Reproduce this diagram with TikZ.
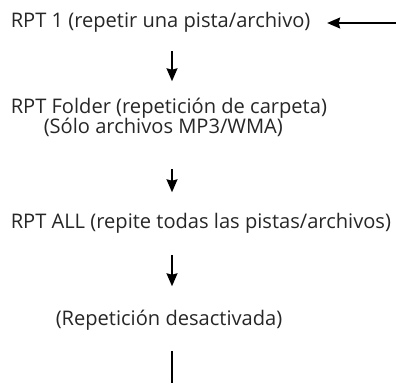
\documentclass[tikz,border=0pt]{standalone}
\usepackage{fontspec}
\setmainfont{Open Sans}
\usepackage{tikz}
\usetikzlibrary{arrows.meta}

\begin{document}
\begin{tikzpicture}[x=1pt,y=1pt,>={Stealth[length=13pt,width=11pt,inset=1.5pt]},
  line width=1.5pt,font=\fontsize{20.1}{24}\selectfont,
  mode/.style={inner sep=0pt,text height=15pt,text depth=5pt,text=black!85,anchor=base west}]
\useasboundingbox (0,0) rectangle (396,-383);
\coordinate (spine) at (172,0);
\coordinate (feed) at (396,-23);
\coordinate (loop) at (172,-383);
\node[mode] (rptone) at (10,-27.3) {RPT 1 (repetir una pista/archivo)};
\node[mode] (rptfolder) at (10,-113.3) {RPT Folder (repetición de carpeta)};
\node[mode] (mpthree) at (43,-133) {(Sólo archivos MP3/WMA)};
\node[mode] (rptall) at (10,-228) {RPT ALL (repite todas las pistas/archivos)};
\node[mode] (rptoff) at (55,-325) {(Repetición desactivada)};
\draw[->,shorten >=16pt] (feed) -- (rptone.east |- feed);
\draw[->,shorten <=17.7pt,shorten >=16.3pt] (rptone.south -| spine) -- (rptfolder.north -| spine);
\draw[->,shorten <=30pt,shorten >=20pt] (mpthree.south -| spine) -- (rptall.north -| spine);
\draw[->,shorten <=21pt,shorten >=23pt] (rptall.south -| spine) -- (rptoff.north -| spine);
\draw[shorten <=20pt] (rptoff.south -| spine) -- (loop);
\end{tikzpicture}
\end{document}
